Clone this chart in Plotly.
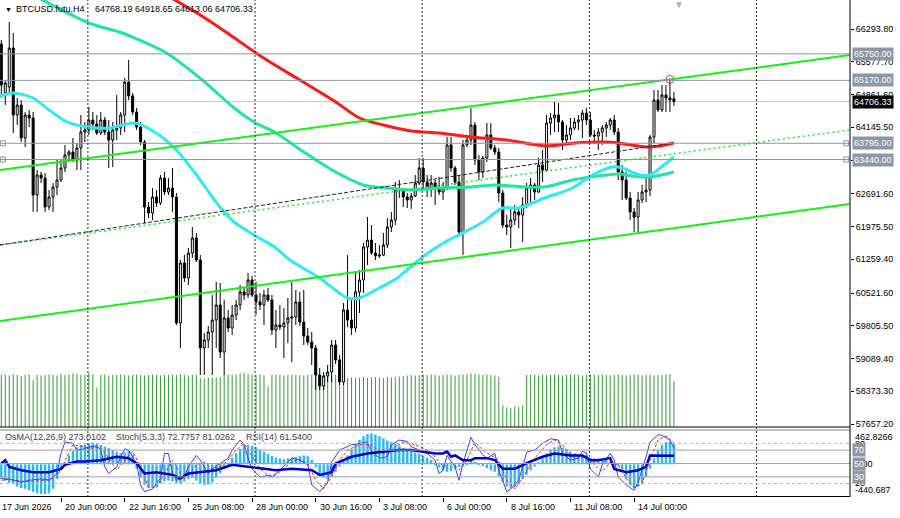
import plotly.graph_objects as go

# ---------------- data ----------------
bars = list(range(170))

open_ = [65966, 64895, 65026, 65878, 64413, 64632, 63911, 64413, 64348, 62664,
         63102, 63036, 62402, 62620, 62839, 62992, 63255, 63539, 63605, 63430,
         63692, 64042, 64086, 64304, 64217, 64020, 64304, 64042, 63867, 64086,
         64129, 64413, 65135, 64830, 64479, 64151, 63823, 62402, 62271, 62620,
         62489, 63036, 62730, 62817, 62620, 59866, 61178, 60850, 61396, 61724,
         61243, 59319, 59494, 59669, 59931, 60259, 59232, 59975, 59756, 60040,
         60259, 60544, 60478, 60806, 60478, 60325, 60259, 60478, 60369, 59713,
         59822, 59778, 59866, 59975, 59997, 60325, 59888, 59582, 59450, 59319,
         58729, 58488, 58707, 58794, 59385, 59057, 58576, 60150, 59931, 59756,
         60544, 60806, 61527, 61680, 61396, 61331, 61352, 61571, 61965, 62118,
         62774, 62795, 62620, 62555, 62642, 62927, 63255, 62949, 62817, 62927,
         62817, 62730, 62817, 63758, 63255, 62949, 61855, 63758, 63867, 64195,
         63430, 63167, 63473, 63976, 63692, 63605, 62708, 62009, 61965, 62118,
         62293, 62227, 62446, 62817, 62883, 62730, 63321, 63211, 64239, 64348,
         64413, 64261, 63867, 63976, 64129, 64261, 64304, 64457, 64304, 63976,
         63954, 64042, 64129, 64195, 64304, 64042, 63167, 62992, 62599, 62293,
         62183, 62555, 62730, 62774, 63933, 64741, 64523, 64851, 64785, 64768.19]
high_ = [66053, 65179, 66447, 66206, 64785, 64741, 64479, 64523, 64479, 63211,
         63167, 63145, 62774, 62927, 63430, 63430, 63758, 63648, 63911, 63801,
         64413, 64261, 64588, 64479, 64413, 64479, 64370, 64304, 64261, 64851,
         64479, 65222, 65616, 64895, 64567, 64261, 63867, 62511, 62817, 62774,
         63102, 63167, 63036, 63255, 62708, 61243, 61352, 61505, 61965, 61834,
         61352, 59647, 59800, 60478, 60762, 60740, 60369, 60150, 60259, 60369,
         60697, 60653, 60959, 60893, 60762, 60522, 60587, 60631, 60478, 60150,
         60259, 60194, 60412, 60762, 60587, 60544, 60587, 59756, 59669, 59385,
         58882, 58794, 58947, 59494, 59494, 59166, 60303, 61352, 60412, 60959,
         61025, 61615, 62183, 62009, 61615, 61571, 61834, 62162, 62293, 62949,
         62992, 62817, 62708, 62708, 63102, 63473, 63473, 63102, 63102, 62992,
         63058, 62949, 63933, 63933, 63299, 63102, 63867, 63976, 64567, 64261,
         63539, 63517, 64239, 64239, 63758, 63692, 62774, 62227, 62380, 62446,
         62402, 62620, 62927, 63036, 62927, 63473, 63648, 64413, 64457, 64698,
         64676, 64304, 64195, 64348, 64348, 64413, 64523, 64567, 64479, 64086,
         64129, 64195, 64261, 64348, 64413, 64129, 63321, 63167, 62730, 62380,
         62730, 62883, 63102, 63976, 64960, 64960, 65069, 65069, 65201, 64918.65]
low_ = [64785, 64632, 64851, 64020, 64195, 63823, 63714, 64151, 62293, 62293,
        62927, 62293, 62336, 62293, 62664, 62949, 63167, 63386, 63386, 63211,
        63211, 63823, 63976, 64086, 63976, 63976, 63976, 63255, 63277, 63867,
        63976, 64042, 64741, 64413, 64086, 63758, 62052, 62162, 62118, 62402,
        62446, 62664, 62664, 62293, 59822, 59319, 60762, 60697, 61287, 61199,
        58729, 58729, 59319, 58729, 59319, 59100, 58729, 59669, 59603, 59931,
        60150, 60369, 60412, 60434, 60040, 60150, 59822, 60325, 59603, 59319,
        59713, 59100, 59428, 59013, 59822, 59800, 59385, 59385, 58947, 58401,
        58401, 58401, 58576, 58576, 58969, 58510, 58510, 59778, 59603, 59669,
        60084, 60522, 61134, 61352, 61243, 61287, 61331, 61505, 61855, 62009,
        62599, 62402, 62380, 62358, 62620, 62883, 62817, 62620, 62620, 62446,
        62664, 62555, 62774, 63167, 62883, 61790, 61352, 63714, 63758, 63321,
        62992, 63036, 63386, 63648, 63539, 62511, 61943, 61790, 61505, 62009,
        61943, 61637, 62380, 62489, 62555, 62708, 62949, 63167, 63976, 64042,
        64042, 63648, 63758, 63867, 64086, 64086, 63911, 64195, 63933, 63823,
        63648, 63758, 63933, 64086, 63976, 62992, 62555, 62555, 62118, 61855,
        61855, 62489, 62511, 62642, 63801, 64479, 64479, 64479, 64479, 64613.06]
close_ = [65069, 65113, 65878, 64413, 64632, 63911, 64413, 64348, 62664, 63102,
          63036, 62402, 62620, 62839, 62992, 63255, 63539, 63605, 63430, 63692,
          64042, 64086, 64304, 64217, 64020, 64304, 64042, 63867, 64086, 64129,
          64413, 65135, 64830, 64479, 64151, 63823, 62402, 62271, 62620, 62489,
          63036, 62730, 62817, 62620, 59866, 61178, 60850, 61396, 61724, 61243,
          59319, 59494, 59669, 59931, 60259, 59232, 59975, 59756, 60040, 60259,
          60544, 60478, 60806, 60478, 60325, 60259, 60478, 60369, 59713, 59822,
          59778, 59866, 59975, 59997, 60325, 59888, 59582, 59450, 59319, 58729,
          58488, 58707, 58794, 59385, 59057, 58576, 60150, 59931, 59756, 60544,
          60806, 61527, 61680, 61396, 61331, 61352, 61571, 61965, 62118, 62774,
          62795, 62620, 62555, 62642, 62927, 63255, 62949, 62817, 62927, 62817,
          62730, 62817, 63758, 63255, 62949, 61855, 63758, 63867, 64195, 63430,
          63167, 63473, 63976, 63692, 63605, 62708, 62009, 61965, 62118, 62293,
          62227, 62446, 62817, 62883, 62730, 63321, 63211, 64239, 64348, 64413,
          64261, 63867, 63976, 64129, 64261, 64304, 64457, 64304, 63976, 63954,
          64042, 64129, 64195, 64304, 64042, 63167, 62992, 62599, 62293, 62183,
          62555, 62730, 62774, 63933, 64741, 64523, 64851, 64785, 64741, 64706.33]

volume = [1000, 1010, 990, 1020, 1000, 980, 1000, 1010, 900, 1000,
          990, 1000, 1010, 1000, 990, 1020, 1000, 1010, 1030, 1020,
          1000, 1010, 1040, 1020, 760, 1000, 1010, 990, 1000, 1000,
          1010, 1000, 990, 1000, 1010, 1000, 990, 1000, 1010, 1000,
          990, 1000, 1000, 1010, 1000, 1020, 1000, 990, 1000, 1000,
          940, 930, 950, 940, 950, 960, 1000, 1010, 1000, 1010,
          1030, 1040, 1020, 1010, 1000, 1010, 990, 780, 1000, 1010,
          1000, 990, 1000, 1010, 1000, 1000, 990, 1000, 1010, 1000,
          1000, 1010, 1000, 990, 1000, 1010, 950, 940, 950, 940,
          950, 960, 940, 950, 960, 950, 940, 960, 950, 960,
          970, 980, 990, 1000, 990, 1000, 1010, 1000, 1010, 1000,
          990, 1000, 1010, 1000, 990, 1000, 1010, 1020, 1030, 1020,
          1010, 1000, 1010, 1000, 990, 960, 420, 380, 360, 400,
          380, 420, 1000, 1010, 1000, 990, 1010, 1000, 1000, 1010,
          1000, 990, 1000, 1010, 1000, 1000, 990, 1000, 1010, 1000,
          1000, 1010, 1000, 990, 1000, 1010, 1000, 990, 1000, 1010,
          1000, 990, 1000, 1010, 990, 1000, 1000, 1010, 1020, 880]

osma = [-200, -220, -250, -260, -300, -320, -330, -350, -370, -390,
        -400, -400, -390, -330, -200, -80, 30, 120, 180, 230,
        260, 270, 280, 290, 280, 260, 240, 220, 190, 170,
        150, 160, 180, 130, -60, -180, -280, -320, -310, -300,
        -260, -230, -220, -230, -250, -260, -230, -200, -180, -220,
        -260, -280, -270, -240, -180, -120, -60, 20, 90, 150,
        210, 250, 260, 250, 230, 200, 170, 140, 110, 90,
        80, 70, 80, 90, 100, 110, 120, 110, 60, -40,
        -120, -180, -200, -160, -100, -30, 40, 120, 200, 280,
        330, 380, 410, 420, 400, 380, 350, 320, 300, 280,
        250, 220, 200, 180, 160, 140, 110, 90, 60, 20,
        -40, -80, -100, -90, -60, -40, -20, 10, 40, 30,
        10, -20, -50, -80, -100, -160, -240, -300, -320, -310,
        -270, -200, -140, -80, -30, 30, 80, 150, 200, 230,
        240, 225, 200, 170, 150, 130, 120, 110, 90, 80,
        80, 70, 60, 40, 20, -20, -100, -200, -280, -320,
        -300, -250, -170, -60, 80, 190, 260, 300, 310, 273.0102]

stoch_main_x = [0, 2, 5, 7, 10, 12, 14, 15, 16, 18, 19, 21, 22, 24, 25, 26, 27, 29, 30, 31,
                32, 34, 35, 36, 38, 40, 41, 42, 43, 44, 46, 47, 49, 50, 52, 53, 55, 57, 58, 60,
                61, 62, 63, 65, 67, 68, 70, 72, 73, 75, 77, 78, 80, 82, 83, 85, 88, 90, 92, 93,
                95, 97, 98, 100, 102, 103, 105, 107, 109, 110, 111, 112, 114, 115, 116, 118, 119, 121, 122, 124,
                125, 127, 128, 130, 131, 132, 134, 136, 138, 140, 141, 143, 145, 146, 147, 148, 150, 151, 153, 154,
                155, 157, 159, 160, 162, 163, 165, 166, 168, 169]
stoch_main = [25, 27, 22, 25, 27, 25, 35, 65, 82, 80, 70, 72, 75, 76, 70, 45, 35, 45, 60, 72,
              70, 50, 18, 8, 12, 28, 65, 65, 35, 25, 30, 45, 62, 55, 35, 42, 50, 58, 70, 85,
              78, 58, 42, 30, 32, 30, 40, 52, 58, 55, 48, 18, 8, 22, 52, 70, 78, 80, 82, 68,
              58, 60, 78, 85, 83, 75, 70, 65, 55, 35, 40, 62, 45, 25, 50, 89, 78, 63, 58, 65,
              40, 8, 12, 25, 45, 67, 70, 80, 87, 85, 65, 55, 58, 68, 66, 42, 30, 48, 65, 55,
              30, 18, 10, 22, 60, 82, 93, 92, 85, 72.7757]

stoch_sig_x = [0, 3, 6, 9, 12, 14, 16, 18, 20, 22, 25, 27, 29, 31, 33, 35, 37, 39, 41, 43,
               45, 47, 49, 51, 53, 55, 57, 59, 61, 63, 65, 67, 69, 71, 73, 75, 77, 79, 81, 83,
               85, 87, 90, 93, 95, 97, 99, 101, 104, 107, 109, 111, 113, 115, 117, 119, 121, 123, 125, 127,
               129, 131, 133, 135, 137, 139, 141, 143, 145, 147, 149, 151, 153, 155, 157, 159, 161, 163, 165, 167,
               169]
stoch_sig = [28, 25, 23, 24, 26, 30, 55, 78, 76, 73, 74, 58, 40, 55, 68, 45, 15, 14, 35, 55,
             35, 33, 48, 52, 42, 45, 55, 70, 80, 62, 42, 32, 33, 42, 53, 56, 50, 25, 12, 30,
             55, 70, 78, 78, 68, 62, 75, 82, 78, 70, 60, 45, 52, 40, 55, 82, 70, 62, 55, 25,
             12, 28, 50, 65, 78, 85, 78, 62, 57, 62, 48, 38, 52, 48, 28, 14, 20, 55, 85, 91,
             81.0262]

rsi_x = [0, 1, 2, 5, 8, 12, 15, 16, 19, 21, 25, 29, 32, 34, 36, 39, 43, 45, 47, 50,
         54, 58, 62, 65, 69, 73, 78, 80, 83, 84, 86, 88, 92, 96, 100, 103, 106, 109, 111, 112,
         113, 114, 116, 118, 119, 122, 124, 126, 129, 131, 133, 136, 139, 143, 146, 148, 150, 153, 154, 157,
         160, 162, 163, 169]
rsi = [50, 55, 45, 40, 37, 37, 42, 48, 53, 53, 55, 60, 58, 50, 35, 37, 33, 28, 35, 37,
       40, 48, 45, 42, 40, 42, 40, 33, 37, 50, 55, 60, 65, 67, 70, 70, 67, 65, 65, 68,
       60, 62, 55, 55, 58, 58, 55, 42, 42, 48, 53, 60, 65, 62, 62, 55, 55, 58, 42, 37,
       40, 45, 62, 61.54]

ma_red_x = [41, 50, 57.5, 64, 67.5, 75, 84, 90, 96, 103, 110, 118, 127, 137, 144, 152, 155, 162, 165.5, 169]
ma_red = [67059, 66600, 66163, 65769, 65572, 65179, 64698, 64348, 64195, 64064,
          64020, 63933, 63867, 63736, 63801, 63823, 63801, 63714, 63736, 63801]

ma_green_x = [8.5, 22, 30.5, 33.5, 41.5, 50.5, 58.5, 63.5, 69, 76, 84, 91, 97, 103, 110, 118, 124.5,
              131, 136.5, 143.5, 152, 155.5, 158.5, 163, 169]
ma_green = [67015, 66425, 66206, 66097, 65769, 65179, 64567, 64261, 64020, 63605, 63167, 62883,
            62817, 62774, 62817, 62839, 62883, 62839, 62839, 62992, 63102, 63124, 63080, 63058, 63167]

ma_cyan_x = [-0.3, 3, 8, 12, 16.5, 21.5, 27.5, 30.5, 33.5, 38.5, 43.5, 48.5, 54.5, 58.5, 63.5, 69,
             72.5, 80, 87, 90, 95, 99.5, 102.5, 106.5, 111.5, 116, 121, 126, 130, 136.5, 143.5,
             148.5, 153.5, 156, 160.5, 163, 166.5, 169]
ma_cyan = [64830, 64895, 64785, 64523, 64261, 64151, 64129, 64195, 64239, 64042, 63692, 63167,
           62446, 62074, 61790, 61505, 61243, 60850, 60412, 60412, 60631, 60850, 61068, 61352,
           61637, 61834, 62074, 62380, 62380, 62599, 62817, 63102, 63277, 63255, 63102, 63102,
           63321, 63495]

chan_x = [-0.33, 213.2]
chan_upper = [63209, 65724]
chan_mid = [61571, 64086]
chan_lower = [59910, 62468]
mid_black_x = [-0.33, 168.8]
mid_black = [61571, 63802]

levels = [65750.00, 65170.00, 63795.00, 63440.00]
level_handles = [63795.00, 63440.00]
bid = 64706.33
touch_bar, touch_price = 168, 65190

price_ticks = [66293.80, 65577.70, 64861.60, 64145.50, 63429.40, 62691.60, 61975.50,
               61259.40, 60521.60, 59805.50, 59089.40, 58373.30, 57657.20]
time_tick_idx = [-1, 15, 31, 47, 63, 79, 95, 111, 127, 143, 159]
time_labels = ["17 Jun 2026", "20 Jun 00:00", "22 Jun 16:00", "25 Jun 08:00", "28 Jun 00:00",
               "30 Jun 16:00", "3 Jul 08:00", "6 Jul 00:00", "8 Jul 16:00", "11 Jul 08:00",
               "14 Jul 00:00"]
separators = [21.75, 63.75, 105.75, 147.75, 189.75]

osma_max, osma_min = 462.8266, -440.687

# ---------------- geometry / style ----------------
W, H = 900, 518
MR, MB = 50, 21
PH = H - MB            # plot height in px (497)
PW = W - MR            # plot width in px (850)
FONT = "Liberation Sans, Arial, sans-serif"


def pyf(px):
    return 1 - px / PH


def pxf(px):
    return px / PW


main_dom = [pyf(427), 1]
ind_dom = [0, pyf(430)]
PRICE_RANGE = [57591.6, 66928.0]
X_RANGE = [-0.327, 213.24]

LEVEL_COL = "#8b96a6"
LIME = "#18ee18"

fig = go.Figure()

# volumes (base axis of the main pane); translucent colour keeps the 1px bars from widening
fig.add_trace(go.Bar(x=bars, y=volume, xaxis="x", yaxis="y", width=0.26,
                     marker=dict(color="rgba(40,150,40,0.92)", line=dict(width=0)),
                     hoverinfo="skip"))

# candles
fig.add_trace(go.Candlestick(
    x=bars, open=open_, high=high_, low=low_, close=close_, xaxis="x", yaxis="y3",
    increasing=dict(line=dict(color="black", width=1), fillcolor="white"),
    decreasing=dict(line=dict(color="black", width=1), fillcolor="black"),
    whiskerwidth=0, hoverinfo="skip"))

# moving averages
for xs, ys, col in [(ma_red_x, ma_red, "#ff1a1a"),
                    (ma_green_x, ma_green, "#20e6a0"),
                    (ma_cyan_x, ma_cyan, "#2eeaf2")]:
    fig.add_trace(go.Scatter(x=xs, y=ys, xaxis="x", yaxis="y3", mode="lines",
                             line=dict(color=col, width=3, shape="spline", smoothing=0.8),
                             hoverinfo="skip"))

# channel lines
fig.add_trace(go.Scatter(x=chan_x, y=chan_upper, xaxis="x", yaxis="y3", mode="lines",
                         line=dict(color=LIME, width=2), hoverinfo="skip"))
fig.add_trace(go.Scatter(x=chan_x, y=chan_lower, xaxis="x", yaxis="y3", mode="lines",
                         line=dict(color=LIME, width=2), hoverinfo="skip"))
fig.add_trace(go.Scatter(x=chan_x, y=chan_mid, xaxis="x", yaxis="y3", mode="lines",
                         line=dict(color=LIME, width=1.5, dash="2px,3px"), hoverinfo="skip"))
fig.add_trace(go.Scatter(x=mid_black_x, y=mid_black, xaxis="x", yaxis="y3", mode="lines",
                         line=dict(color="#202020", width=1, dash="4px,2px"), hoverinfo="skip"))

# level handles and touch marker
fig.add_trace(go.Scatter(x=[0.4] * len(level_handles) + [212.3] * len(level_handles),
                         y=level_handles + level_handles, xaxis="x", yaxis="y3", mode="markers",
                         marker=dict(symbol="square-open", size=5, color=LEVEL_COL, line=dict(width=1)),
                         hoverinfo="skip"))
fig.add_trace(go.Scatter(x=[touch_bar], y=[touch_price], xaxis="x", yaxis="y3", mode="markers",
                         marker=dict(symbol="circle-open", size=8, color="#ff3030", line=dict(width=1)),
                         hoverinfo="skip"))

# indicator pane
fig.add_trace(go.Bar(x=bars, y=osma, xaxis="x", yaxis="y2", width=0.6,
                     marker=dict(color="#2ab8f0", line=dict(width=0)), hoverinfo="skip"))
fig.add_trace(go.Scatter(x=stoch_sig_x, y=stoch_sig, xaxis="x", yaxis="y4", mode="lines",
                         line=dict(color="#ff2020", width=1, dash="3px,2px"), hoverinfo="skip"))
fig.add_trace(go.Scatter(x=stoch_main_x, y=stoch_main, xaxis="x", yaxis="y4", mode="lines",
                         line=dict(color="#3c3cff", width=1), hoverinfo="skip"))
fig.add_trace(go.Scatter(x=rsi_x, y=rsi, xaxis="x", yaxis="y4", mode="lines",
                         line=dict(color="#0000c8", width=2.5), hoverinfo="skip"))

# ---------------- shapes ----------------
shapes = []
for lv in levels:
    shapes.append(dict(type="line", xref="paper", x0=0, x1=1, yref="y3", y0=lv, y1=lv,
                       line=dict(color=LEVEL_COL, width=1), layer="above"))
shapes.append(dict(type="line", xref="paper", x0=0, x1=1, yref="y3", y0=bid, y1=bid,
                   line=dict(color="#c8c8c8", width=1), layer="below"))
for s in separators:
    shapes.append(dict(type="line", xref="x", x0=s, x1=s, yref="paper", y0=0, y1=1,
                       line=dict(color="#303030", width=1, dash="2px,2px"), layer="above"))
for lv in [80, 20]:
    shapes.append(dict(type="line", xref="paper", x0=0, x1=1, yref="y4", y0=lv, y1=lv,
                       line=dict(color="#b4b4b4", width=1, dash="3px,3px"), layer="above"))
for lv in [70, 50, 30]:
    shapes.append(dict(type="line", xref="paper", x0=0, x1=1, yref="y4", y0=lv, y1=lv,
                       line=dict(color="#9aa2ae", width=1), layer="above"))
# frames
for ypx, col in [(427, "#000000"), (430, "#808080"), (496.5, "#000000")]:
    shapes.append(dict(type="line", xref="paper", x0=0, x1=1, yref="paper",
                       y0=pyf(ypx), y1=pyf(ypx), line=dict(color=col, width=1)))
shapes.append(dict(type="line", xref="paper", x0=1, x1=1, yref="paper", y0=0, y1=1,
                   line=dict(color="#000000", width=1)))

# ---------------- annotations ----------------
ann = []


def txt(x, y, text, xref="paper", yref="paper", color="black", size=9, xanchor="left",
        yanchor="middle", bg=None, xshift=0, yshift=0):
    d = dict(x=x, y=y, xref=xref, yref=yref, text=text, showarrow=False, xanchor=xanchor,
             yanchor=yanchor, font=dict(family=FONT, size=size, color=color),
             xshift=xshift, yshift=yshift)
    if bg:
        d.update(bgcolor=bg, borderpad=1)
    return d


ann.append(txt(pxf(3), pyf(9), "▼", size=7))
ann.append(txt(pxf(14), pyf(9), "BTCUSD.futu,H4"))
ann.append(txt(pxf(93), pyf(9), "64768.19 64918.65 64613.06 64706.33"))
ann.append(txt(pxf(672), 1, "▼", color="#b0b0b0", size=10, yanchor="top", yshift=3))

ann.append(txt(pxf(3), pyf(437), "OsMA(12,26,9) 273.0102", color="#404040"))
ann.append(txt(pxf(114), pyf(437), "Stoch(5,3,3) 72.7757 81.0262", color="#404040"))
ann.append(txt(pxf(244), pyf(437), "RSI(14) 61.5400", color="#404040"))

for i, (idx, lab) in enumerate(zip(time_tick_idx, time_labels)):
    if i == 0:
        ann.append(txt(pxf(0), pyf(507), lab))
    else:
        ann.append(txt(idx, pyf(507), lab, xref="x", xshift=2))

# right price boxes
for lv in levels:
    ann.append(txt(pxf(851.5), lv, f"{lv:.2f}", yref="y3", color="white", bg=LEVEL_COL))
ann.append(txt(pxf(851.5), bid, f"{bid:.2f}", yref="y3", color="white", bg="#000000"))

# indicator scale labels
ann.append(txt(pxf(853), osma_max, "462.8266", yref="y2", yanchor="top"))
ann.append(txt(pxf(853), 80, "80", yref="y4", yshift=-1))
ann.append(txt(pxf(853), 20, "20", yref="y4", yshift=1))
ann.append(txt(pxf(853), 0, "0.00", yref="y2"))
ann.append(txt(pxf(853), osma_min, "-440.687", yref="y2", yanchor="bottom"))
for lv in [70, 50, 30]:
    ann.append(txt(pxf(851.5), lv, str(lv), yref="y4", color="white", bg="#8e98a6"))

fig.update_layout(
    width=W, height=H, margin=dict(l=0, r=MR, t=0, b=MB),
    paper_bgcolor="white", plot_bgcolor="white", showlegend=False,
    boxgap=0.28,
    xaxis=dict(domain=[0, 1], range=X_RANGE, anchor="y2", showgrid=False, zeroline=False,
               showticklabels=False, ticks="outside", tickvals=time_tick_idx, ticklen=4,
               tickcolor="black", showline=False, rangeslider=dict(visible=False),
               automargin=False),
    yaxis=dict(domain=main_dom, range=[0, 8200], visible=False, automargin=False),
    yaxis3=dict(overlaying="y", side="right", anchor="x", range=PRICE_RANGE,
                tickvals=price_ticks, ticktext=[f"{v:.2f}" for v in price_ticks],
                ticks="outside", ticklen=3, tickcolor="black", showgrid=False,
                zeroline=False, showline=False, automargin=False,
                tickfont=dict(family=FONT, size=9, color="black")),
    yaxis2=dict(domain=ind_dom, range=[osma_min, osma_max], visible=False, automargin=False),
    yaxis4=dict(overlaying="y2", range=[0, 100], visible=False, automargin=False),
    shapes=shapes, annotations=ann,
)

fig.write_html("out.html")
